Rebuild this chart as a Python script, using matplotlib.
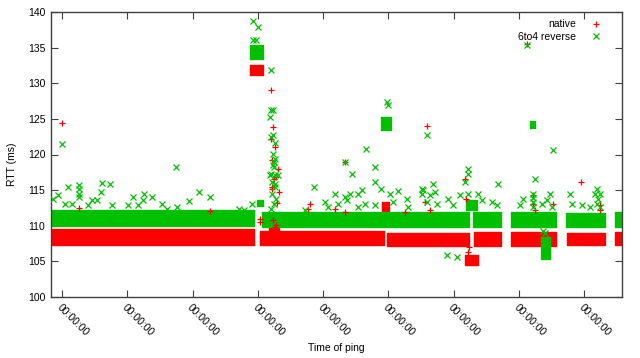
import matplotlib
matplotlib.use("Agg")
import matplotlib.pyplot as plt

plt.rcParams['font.family'] = ['Liberation Sans', 'DejaVu Sans']

# ---- data (time in days since first midnight, RTT in ms) ----
tick_days = [0, 1, 2, 3, 4, 5, 6, 7, 8]
tick_labels = ["00:00:00"] * 9

# dense regions (thousands of overlapping pings) as time span + RTT range
native_dense_start = [-0.17, 3.03, 4.98, 6.31, 6.88, 7.73, 8.48, 2.88, 4.90, 6.17, 3.17]
native_dense_end   = [2.94, 4.93, 6.23, 6.72, 7.57, 8.32, 8.58, 3.08, 5.01, 6.37, 3.32]
native_dense_lo    = [107.3, 107.3, 107.1, 107.2, 107.2, 107.3, 107.3, 131.1, 111.8, 104.5, 108.5]
native_dense_hi    = [109.5, 109.3, 109.0, 109.1, 109.1, 109.0, 109.1, 132.5, 113.3, 105.9, 110.6]

sixto4_dense_start = [-0.17, 3.06, 6.29, 6.88, 7.72, 8.48, 2.88, 2.99, 4.89, 6.19, 7.17, 7.34]
sixto4_dense_end   = [2.94, 6.23, 6.72, 7.57, 8.32, 8.58, 3.08, 3.08, 5.04, 6.36, 7.24, 7.47]
sixto4_dense_lo    = [110.0, 109.85, 109.8, 109.8, 109.8, 109.85, 133.4, 112.8, 123.4, 112.2, 123.7, 105.3]
sixto4_dense_hi    = [112.2, 112.0, 111.9, 111.9, 111.8, 111.9, 135.3, 113.6, 125.2, 113.6, 124.7, 108.4]

# individual outlying pings
native_t = [0.000, 0.260, 2.266, 3.032, 3.032,
            3.201, 3.231, 3.201, 3.262, 3.216, 3.277, 3.216, 3.308, 3.247, 3.323,
            3.216, 3.292, 3.231, 3.262, 3.277,
            3.798, 3.767, 4.181, 4.334, 4.334, 5.253,
            5.590, 5.559, 5.636, 6.172, 6.187, 6.233, 6.217, 7.213, 7.213, 7.243,
            7.519, 7.948, 8.239, 8.239, 7.121]
native_rtt = [124.4, 112.5, 112.1, 111.0, 110.5,
              129.0, 123.9, 122.2, 121.05, 119.2, 116.8, 115.5, 118.0, 116.6, 114.8,
              115.2, 113.2, 110.8, 109.85, 110.1,
              113.1, 112.3, 112.4, 111.95, 119.0, 111.9,
              124.0, 113.35, 112.2, 116.6, 113.8, 107.0, 106.35, 114.3, 113.1, 112.2,
              113.1, 116.2, 112.9, 112.2, 135.5]

sixto4_t = [0.000, 1.746,
            -0.061, -0.138, 0.092, 0.260, 0.260, 0.260, 0.260, 0.046, 0.153,
            0.613, 0.735, 0.597, 0.459, 0.536, 0.398, 1.087, 1.256, 1.378, 1.164,
            1.240, 1.531, 0.766, 1.011, 1.608,
            2.098, 1.945, 2.266, 1.761, 2.711, 2.787, 2.910,
            2.925, 3.002, 2.925, 2.971, 3.201, 3.201, 3.231, 3.185, 3.231, 3.201,
            3.262, 3.231, 3.262, 3.231, 3.201, 3.262, 3.262, 3.247, 3.247, 3.185,
            3.308, 3.216, 3.262, 3.216, 3.277, 3.247, 3.201,
            4.793, 4.441, 3.859, 4.793, 4.885, 4.181, 4.028, 4.334, 4.410, 4.533,
            4.594, 4.227, 4.364, 4.074, 4.640, 4.793, 5.023, 5.145, 5.069, 5.283,
            5.513, 5.513, 5.299, 4.533, 3.721, 4.334,
            4.655, 4.977, 4.992, 5.590,
            5.681, 5.528, 5.636, 5.712, 5.590, 5.743, 5.911, 5.988, 6.095, 6.217,
            6.217, 6.172, 6.217, 6.370, 6.432, 6.585, 6.677, 6.662, 5.896, 6.049,
            7.243, 7.060, 7.014, 7.473, 7.427, 7.504, 7.351, 7.213, 7.213, 7.213,
            7.213, 7.779, 7.810, 7.963, 8.086, 8.162, 8.193, 8.239, 8.208, 8.193,
            8.239, 7.397, 7.366, 7.121, 7.519]
sixto4_rtt = [121.5, 118.3,
              114.3, 113.8, 115.4, 115.7, 115.1, 114.5, 114.0, 113.1, 113.1,
              116.0, 115.9, 114.8, 113.6, 113.6, 112.9, 114.1, 114.4, 114.0, 112.9,
              113.6, 113.1, 112.9, 112.9, 112.4,
              114.8, 113.5, 114.0, 112.6, 112.4, 112.2, 113.0,
              138.8, 137.9, 136.1, 136.1, 131.8, 126.3, 126.3, 125.2, 122.7, 122.5,
              121.6, 120.1, 119.4, 118.5, 117.3, 117.1, 115.9, 119.0, 118.2, 117.1,
              117.1, 116.2, 115.5, 114.5, 113.8, 113.1, 112.4,
              118.3, 117.2, 115.4, 116.2, 115.2, 114.5, 113.35, 114.05, 114.5, 114.5,
              115.0, 113.1, 113.6, 112.65, 113.1, 112.9, 114.5, 114.9, 113.35, 113.7,
              115.2, 114.5, 112.65, 112.65, 112.2, 119.0,
              120.8, 127.35, 127.0, 122.7,
              115.9, 115.0, 114.3, 114.75, 113.35, 113.1, 113.8, 112.9, 114.3, 118.0,
              117.3, 116.2, 114.5, 114.5, 113.6, 113.35, 115.9, 112.9, 105.9, 105.6,
              116.6, 113.8, 112.9, 114.5, 113.6, 112.65, 113.1, 114.5, 113.9, 113.3,
              112.6, 114.5, 113.1, 112.9, 112.65, 114.5, 115.2, 114.5, 113.8, 113.1,
              112.6, 109.0, 109.3, 135.3, 120.6]

series_names = ["native", "6to4 reverse"]
red = "#ff0000"
green = "#00c000"

fig = plt.figure(figsize=(6.4, 3.58), dpi=100)
ax = fig.add_axes([51/640, 1 - 297/358, (622 - 51)/640, (297 - 12)/358])

for s, e, lo, hi in zip(native_dense_start, native_dense_end, native_dense_lo, native_dense_hi):
    ax.fill_between([s, e], [lo, lo], [hi, hi], color=red, lw=1.0, edgecolor=red, zorder=2)
for s, e, lo, hi in zip(sixto4_dense_start, sixto4_dense_end, sixto4_dense_lo, sixto4_dense_hi):
    ax.fill_between([s, e], [lo, lo], [hi, hi], color=green, lw=1.0, edgecolor=green, zorder=2)

ax.plot(native_t, native_rtt, linestyle='none', marker='+', ms=5, mew=0.9,
        color=red, label=series_names[0], zorder=3)
ax.plot(sixto4_t, sixto4_rtt, linestyle='none', marker='x', ms=4.2, mew=0.9,
        color=green, label=series_names[1], zorder=4)

ax.set_xlim(-0.17, 8.58)
ax.set_ylim(100, 140)
ax.set_yticks(range(100, 141, 5))
ax.set_xticks(tick_days)
ax.set_xticklabels(tick_labels, rotation=-45, ha='left', va='top', rotation_mode='anchor')

spine_col = "#404040"
for sp in ax.spines.values():
    sp.set_color(spine_col)
    sp.set_linewidth(1.0)
ax.tick_params(direction='in', length=5, width=0.8, color=spine_col,
               top=True, right=True, labelsize=7.5, labelcolor='black', pad=4)

ax.set_xlabel("Time of ping", fontsize=7.5)
ax.set_ylabel("RTT (ms)", fontsize=7.5)
ax.xaxis.set_label_coords(0.5, -0.16)
ax.yaxis.set_label_coords(-0.060, 0.467)

leg = ax.legend(loc='upper right', markerfirst=False, frameon=False, fontsize=7.5,
                handlelength=1.5, handletextpad=1.2, labelspacing=0.25,
                borderaxespad=0.3, bbox_to_anchor=(0.981, 1.0))

fig.savefig("out.png", dpi=100)
